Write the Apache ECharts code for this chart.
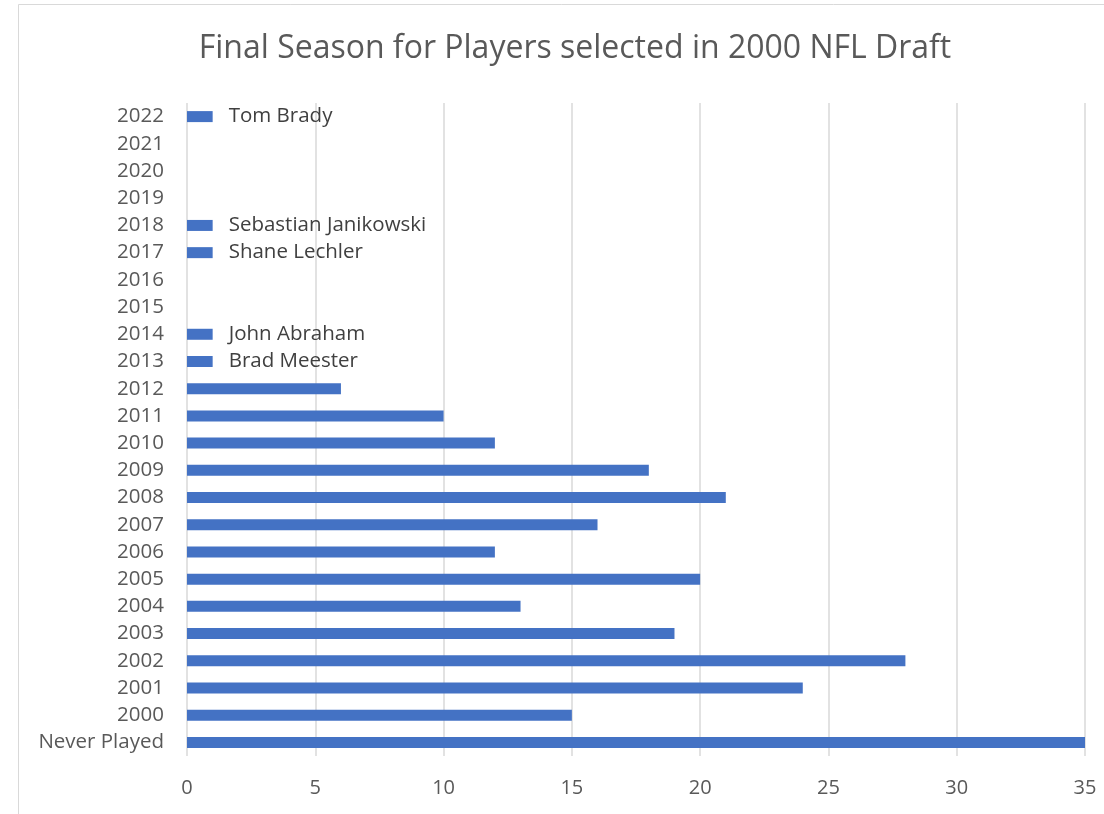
<!DOCTYPE html>
<html>
<head>
<meta charset="utf-8">
<script src="https://cdn.jsdelivr.net/npm/echarts@6/dist/echarts.min.js"></script>
<style>
html,body{margin:0;padding:0;background:#fff;}
#chart{width:1104px;height:814px;}
</style>
</head>
<body>
<div id="chart"></div>
<script>
var categories = ['Never Played','2000','2001','2002','2003','2004','2005','2006','2007','2008','2009','2010','2011','2012','2013','2014','2015','2016','2017','2018','2019','2020','2021','2022'];
var values = [35,15,24,28,19,13,20,12,16,21,18,12,10,6,1,1,0,0,1,1,0,0,0,1];
var playerNames = ['','','','','','','','','','','','','','','Brad Meester','John Abraham','','','Shane Lechler','Sebastian Janikowski','','','','Tom Brady'];
var xTicks = [0,5,10,15,20,25,30,35];

var FONT = '"Open Sans", "Noto Sans", sans-serif';
var chart = echarts.init(document.getElementById('chart'));
chart.setOption({
  animation: false,
  backgroundColor: '#ffffff',
  title: {
    text: 'Final Season for Players selected in 2000 NFL Draft',
    left: 570, top: 28, textAlign: 'center',
    textStyle: {fontFamily: FONT, fontSize: 32, fontWeight: 'normal', color: '#595959'}
  },
  graphic: [{
    type: 'polyline',
    shape: {points: [[18.5, 830], [18.5, 4.5], [1120, 4.5]]},
    style: {stroke: '#d9d9d9', lineWidth: 1, fill: null},
    silent: true
  }],
  grid: {left: 187, right: 19, top: 103, bottom: 58, containLabel: false},
  xAxis: {
    type: 'value', min: xTicks[0], max: xTicks[xTicks.length - 1], interval: 5,
    axisLine: {show: false}, axisTick: {show: false},
    axisLabel: {fontFamily: FONT, fontSize: 20, color: '#595959', margin: 22},
    splitLine: {show: true, lineStyle: {color: '#d9d9d9', width: 1.5}}
  },
  yAxis: {
    type: 'category', data: categories,
    axisLine: {show: false}, axisTick: {show: false},
    axisLabel: {interval: 0, fontFamily: FONT, fontSize: 20.5, lineHeight: 22, color: '#595959', margin: 23}
  },
  series: [{
    type: 'bar',
    data: values.map(function (v, i) {
      return {value: v, label: {show: playerNames[i] !== '', formatter: playerNames[i]}};
    }),
    barWidth: 11,
    itemStyle: {color: '#4472C4'},
    label: {position: 'right', distance: 16, fontFamily: FONT, fontSize: 20.5, color: '#404040'}
  }]
});
</script>
</body>
</html>
